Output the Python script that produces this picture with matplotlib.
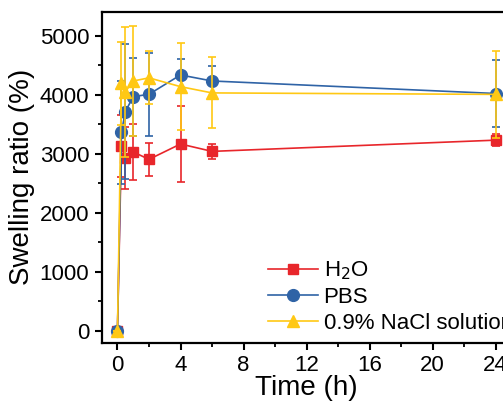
import matplotlib
matplotlib.use("Agg")
import matplotlib.pyplot as plt
from matplotlib.ticker import MultipleLocator

plt.rcParams['font.family'] = ['Liberation Sans', 'DejaVu Sans']

# sampling times (h)
time = [0, 0.25, 0.5, 1, 2, 4, 6, 24]

# swelling ratio (%) and error bars
h2o = [0, 3130, 2920, 3030, 2905, 3165, 3040, 3230]
h2o_err = [0, 520, 525, 470, 280, 650, 125, 100]

pbs = [0, 3360, 3715, 3966, 4007, 4334, 4232, 4020]
pbs_err = [0, 870, 1140, 660, 700, 270, 255, 570]

nacl = [0, 4190, 4051, 4232, 4285, 4136, 4030, 4005]
nacl_err = [0, 700, 1100, 935, 450, 735, 600, 740]

labels = ['H$_2$O', 'PBS', '0.9% NaCl solution']
colors = ['#E8262B', '#2F63A6', '#FFC814']
markers = ['s', 'o', '^']
sizes = [7, 8.5, 9]

fig = plt.figure(figsize=(5.03, 4.03), dpi=100)
ax = fig.add_axes([0.2022, 0.1496, 0.8147, 0.8206])

series = [(h2o, h2o_err), (pbs, pbs_err), (nacl, nacl_err)]
for (vals, errs), lab, c, m, ms in zip(series, labels, colors, markers, sizes):
    ax.errorbar(time, vals, yerr=errs, fmt='none', ecolor=c,
                elinewidth=1.2, capsize=3.2, capthick=1.2)
    ax.plot(time, vals, color=c, lw=1.2, marker=m, ms=ms, label=lab)

ax.set_xlim(-1, 25)
ax.set_ylim(-200, 5400)
ax.xaxis.set_major_locator(MultipleLocator(4))
ax.xaxis.set_minor_locator(MultipleLocator(2))
ax.yaxis.set_major_locator(MultipleLocator(1000))
ax.yaxis.set_minor_locator(MultipleLocator(500))

for s in ax.spines.values():
    s.set_linewidth(1.6)
ax.tick_params(which='major', direction='out', length=5, width=1.5,
               labelsize=16, pad=4)
ax.tick_params(which='minor', direction='out', length=3, width=1.3)

ax.set_xlabel('Time (h)', fontsize=20, labelpad=-1)
ax.set_ylabel('Swelling ratio (%)', fontsize=20, labelpad=3)

ax.legend(loc='lower left', bbox_to_anchor=(0.383, 0.0), frameon=False,
          fontsize=16, handlelength=2.25, handletextpad=0.27,
          labelspacing=0.22, borderaxespad=0)

fig.savefig('out.png', dpi=100)
